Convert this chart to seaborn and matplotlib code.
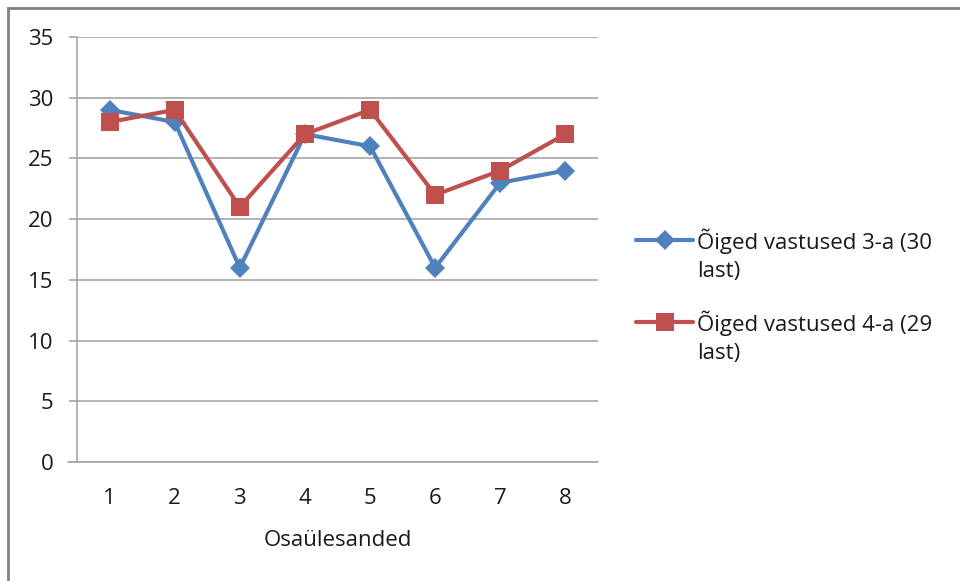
import matplotlib
matplotlib.use("Agg")
import matplotlib.pyplot as plt
import seaborn as sns
import pandas as pd
from matplotlib.patches import Rectangle

# Task numbers and correct answers per class
tasks = [1, 2, 3, 4, 5, 6, 7, 8]
class3 = [29, 28, 16, 27, 26, 16, 23, 24]
class4 = [28, 29, 21, 27, 29, 22, 24, 27]
label3 = "Õiged vastused 3-a (30\nlast)"
label4 = "Õiged vastused 4-a (29\nlast)"
yticks = [0, 5, 10, 15, 20, 25, 30, 35]
xlabel = "Osaülesanded"

df = pd.DataFrame({
    "task": tasks * 2,
    "value": class3 + class4,
    "series": [label3] * len(tasks) + [label4] * len(tasks),
})

sns.set_theme(style="white")
plt.rcParams["font.family"] = ["Open Sans", "DejaVu Sans"]

FS = 16
TEXT = "#1A1A1A"
GRID = "#A6A6A6"

fig = plt.figure(figsize=(9.6, 5.81), dpi=100)
ax = fig.add_axes([77 / 960, 1 - 462 / 581, (598 - 77) / 960, (462 - 37) / 581])

blue = "#4F81BD"
red = "#C0504D"
sns.lineplot(data=df, x="task", y="value", hue="series", style="series",
             palette=[blue, red], markers=["D", "s"], dashes=False,
             linewidth=3, ax=ax, legend=True)
for line, ms in zip(ax.lines, [10.5, 13]):
    line.set_markersize(ms)
    line.set_markeredgewidth(0)

ax.set_xlim(0.5, 8.5)
ax.set_ylim(0, 35)
ax.set_xticks(tasks)
ax.set_yticks(yticks)
ax.set_xticklabels([str(t) for t in tasks])
ax.set_yticklabels([str(v) for v in yticks])
ax.yaxis.grid(True, color=GRID, linewidth=1.2)
ax.set_axisbelow(True)

for side in ["top", "right", "bottom"]:
    ax.spines[side].set_visible(False)
ax.spines["left"].set_color(GRID)
ax.spines["left"].set_linewidth(1.2)
ax.axhline(0, xmin=-0.017, xmax=1, color=GRID, linewidth=1.2, clip_on=False)

ax.tick_params(axis="y", which="both", left=True, length=5.8, width=1.2,
               color=GRID, labelsize=FS, labelcolor=TEXT, pad=11)
ax.tick_params(axis="x", which="both", bottom=False, labelsize=FS,
               labelcolor=TEXT, pad=13)
ax.set_xlabel(xlabel, fontsize=FS, color=TEXT, labelpad=15)
ax.set_ylabel("")

handles, labels = ax.get_legend_handles_labels()
leg = ax.legend(handles, labels, loc="center left", bbox_to_anchor=(1.035, 0.39),
                frameon=False, fontsize=FS, handlelength=2.55, handletextpad=0.2,
                labelspacing=1.25, labelcolor=TEXT)
for t in leg.get_texts():
    t.set_linespacing(1.45)
for h, ms in zip(leg.legend_handles, [10.5, 13]):
    h.set_markersize(ms)
    h.set_linewidth(3)
    h.set_markeredgewidth(0)
    # keep the key level with the first text line
    h.set_ydata([v + 11 for v in h.get_ydata()])

# Outer chart frame
fig.patches.append(Rectangle((8 / 960, -0.05), 1.2, 1 - 8 / 581 + 0.05,
                             transform=fig.transFigure, fill=False,
                             edgecolor="#808080", linewidth=2))

fig.savefig("out.png", dpi=100)
